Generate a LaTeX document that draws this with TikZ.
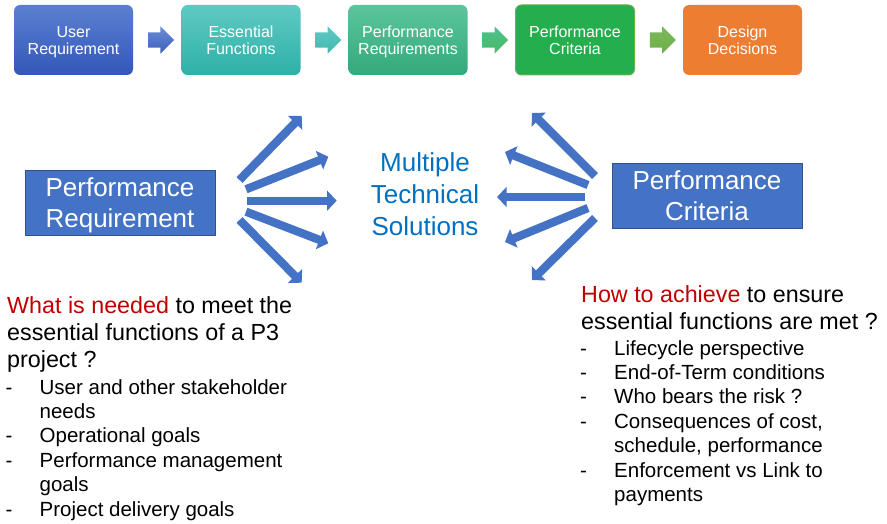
\documentclass[tikz,border=0pt]{standalone}
\usepackage{fontspec}
\setmainfont{Liberation Sans}
\usepackage{xcolor}
\usetikzlibrary{arrows.meta,shapes.arrows,calc}

\definecolor{urtop}{HTML}{5B80D1}
\definecolor{urbot}{HTML}{3357B8}
\definecolor{eftop}{HTML}{5ECAC2}
\definecolor{efbot}{HTML}{2FB0A8}
\definecolor{prtop}{HTML}{5CC59C}
\definecolor{prbot}{HTML}{33A97B}
\definecolor{pcgreen}{HTML}{25AE4E}
\definecolor{pcedge}{HTML}{6DB04A}
\definecolor{ddorange}{HTML}{ED7D31}
\definecolor{boxblue}{HTML}{4472C4}
\definecolor{boxedge}{HTML}{2F528F}
\definecolor{solblue}{HTML}{0070C0}
\definecolor{askred}{HTML}{C00000}

\newcommand{\dsh}{\makebox[34pt][l]{-}}

\begin{document}
\begin{tikzpicture}[x=1pt,y=-1pt]
\tikzstyle{every node}+=[inner sep=0pt]
\tikzstyle{stage}=[rounded corners=6pt, minimum width=119pt, minimum height=70pt, align=center, text=white, text depth=0pt, font=\fontsize{16}{17}\selectfont]
\tikzstyle{chev}=[single arrow, inner xsep=0pt, inner ysep=7.5pt, single arrow head extend=6pt, minimum height=26pt]
\tikzstyle{bigbox}=[fill=boxblue, draw=boxedge, line width=0.75pt, minimum width=190pt, minimum height=65pt, align=center, text=white, text depth=0pt, font=\fontsize{26}{31}\selectfont]
\tikzstyle{fan}=[draw=boxblue, line width=8.3pt, -{Triangle[width=19.5pt,length=9.5pt]}]
\tikzstyle{txt}=[anchor=north west, align=left, font=\fontsize{23.3}{27}\selectfont]
\tikzstyle{lst}=[anchor=north west, align=left, font=\fontsize{20.5}{24.4}\selectfont]
\useasboundingbox (0,0) rectangle (887,524);
% process chain
\node[stage, top color=urtop, bottom color=urbot] (ureq) at (73.5,40) {User\\Requirement};
\node[stage, top color=eftop, bottom color=efbot] (efun) at (241,40) {Essential\\Functions};
\node[stage, top color=prtop, bottom color=prbot] (preq) at (408,40) {Performance\\Requirements};
\node[stage, fill=pcgreen, draw=pcedge, line width=1pt] (pcrit) at (575,40) {Performance\\Criteria};
\node[stage, fill=ddorange] (ddec) at (742.5,40) {Design\\Decisions};
\node[chev, top color=urtop!90, bottom color=urbot!95] (c1) at ($(ureq.east)!0.5!(efun.west)$) {};
\node[chev, top color=eftop, bottom color=efbot!90] (c2) at ($(efun.east)!0.5!(preq.west)$) {};
\node[chev, top color=prtop!80!pcgreen, bottom color=pcgreen!85] (c3) at ($(preq.east)!0.5!(pcrit.west)$) {};
\node[chev, top color=pcedge!90!white, bottom color=pcedge] (c4) at ($(pcrit.east)!0.5!(ddec.west)$) {};
% middle part
\node[bigbox] (perfreq) at (120,202.5) {Performance\\Requirement};
\node[bigbox] (perfcrit) at (707,195.5) {Performance\\Criteria};
\node[font=\fontsize{26}{32}\selectfont, text=solblue, align=center] (multi) at (425,194) {Multiple\\Technical\\Solutions};
\coordinate (l1) at (239.5,180);
\coordinate (l2) at (246,189.3);
\coordinate (l3) at (247.3,200.7);
\coordinate (l4) at (246,211.7);
\coordinate (l5) at (239.5,220);
\coordinate (lt1) at (301.7,116);
\coordinate (lt2) at (328.3,156.7);
\coordinate (lt3) at (336.7,200.7);
\coordinate (lt4) at (328.3,243.3);
\coordinate (lt5) at (301.7,282.7);
\coordinate (r1) at (595,176);
\coordinate (r2) at (588,185);
\coordinate (r3) at (585,197);
\coordinate (r4) at (588,208);
\coordinate (r5) at (595,218);
\coordinate (rt1) at (532,113);
\coordinate (rt2) at (505,152);
\coordinate (rt3) at (497,197);
\coordinate (rt4) at (505,242);
\coordinate (rt5) at (532,280);
\draw[fan] (l1) -- (lt1);
\draw[fan] (l2) -- (lt2);
\draw[fan] (l3) -- (lt3);
\draw[fan] (l4) -- (lt4);
\draw[fan] (l5) -- (lt5);
\draw[fan] (r1) -- (rt1);
\draw[fan] (r2) -- (rt2);
\draw[fan] (r3) -- (rt3);
\draw[fan] (r4) -- (rt4);
\draw[fan] (r5) -- (rt5);
% questions
\node[txt] (needq) at (7,296) {\textcolor{askred}{What is needed} to meet the\\essential functions of a P3\\project ?};
\node[lst] (needl) at (5.5,379) {\dsh User and other stakeholder\\\hspace*{34pt}needs\\\dsh Operational goals\\\dsh Performance management\\\hspace*{34pt}goals\\\dsh Project delivery goals};
\node[txt] (howq) at (581,285) {\textcolor{askred}{How to achieve} to ensure\\essential functions are met ?};
\node[lst] (howl) at (580,340) {\dsh Lifecycle perspective\\\dsh End-of-Term conditions\\\dsh Who bears the risk ?\\\dsh Consequences of cost,\\\hspace*{34pt}schedule, performance\\\dsh Enforcement vs Link to\\\hspace*{34pt}payments};
\end{tikzpicture}
\end{document}
